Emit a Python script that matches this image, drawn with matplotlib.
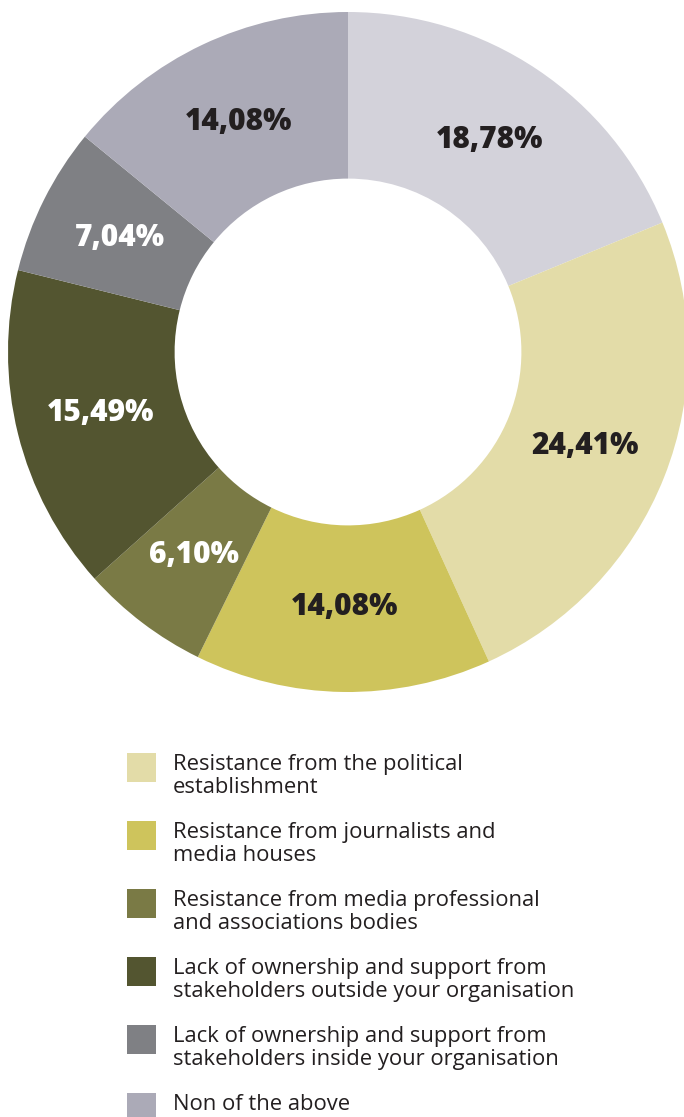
import matplotlib
matplotlib.use("Agg")
import matplotlib.pyplot as plt
from matplotlib.patches import Rectangle
import numpy as np

# slice values, clockwise from 12 o'clock
values = [18.78, 24.41, 14.08, 6.10, 15.49, 7.04, 14.08]
labels = ["18,78%", "24,41%", "14,08%", "6,10%", "15,49%", "7,04%", "14,08%"]
colors = ["#d3d2da", "#e3dca8", "#cec45c", "#7a7a45", "#535530", "#7f8084", "#abaab7"]
text_colors = ["#231f20", "#231f20", "#231f20", "white", "white", "white", "#231f20"]

legend_labels = [
    "Resistance from the political\nestablishment",
    "Resistance from journalists and\nmedia houses",
    "Resistance from media professional\nand associations bodies",
    "Lack of ownership and support from\nstakeholders outside your organisation",
    "Lack of ownership and support from\nstakeholders inside your organisation",
    "Non of the above",
]
legend_colors = colors[1:]

W, H = 684, 1117
fig = plt.figure(figsize=(W / 100, H / 100), dpi=100)

# donut: centre (348, 352) px, outer radius 340 px
cx, cy, R = 348, 352, 340
ax = fig.add_axes([(cx - R) / W, 1 - (cy + R) / H, 2 * R / W, 2 * R / H])
wedges, _ = ax.pie(values, colors=colors, startangle=90, counterclock=False,
                   radius=1.0, wedgeprops=dict(width=0.49, linewidth=0))
for w, lab, tc in zip(wedges, labels, text_colors):
    ang = np.deg2rad((w.theta1 + w.theta2) / 2)
    r = 0.75
    ax.text(r * np.cos(ang), r * np.sin(ang), lab, ha="center", va="center",
            fontsize=21.5, fontweight=800, color=tc, family="Open Sans")
ax.set_xlim(-1, 1)
ax.set_ylim(-1, 1)
ax.set_aspect("equal")
ax.axis("off")
for w in wedges:
    w.set_clip_on(False)

# legend
sq = 29
x0, y0, step = 127, 753, 68
for i, (lab, col) in enumerate(zip(legend_labels, legend_colors)):
    top = y0 + i * step
    fig.patches.append(Rectangle((x0 / W, 1 - (top + sq) / H), sq / W, sq / H,
                                 transform=fig.transFigure, color=col, linewidth=0))
    fig.text(173 / W, 1 - (top + 1) / H, lab, ha="left", va="top",
             fontsize=15.8, color="#231f20", family="Open Sans",
             fontweight="medium", linespacing=1.15)

fig.savefig("out.png", dpi=100)
